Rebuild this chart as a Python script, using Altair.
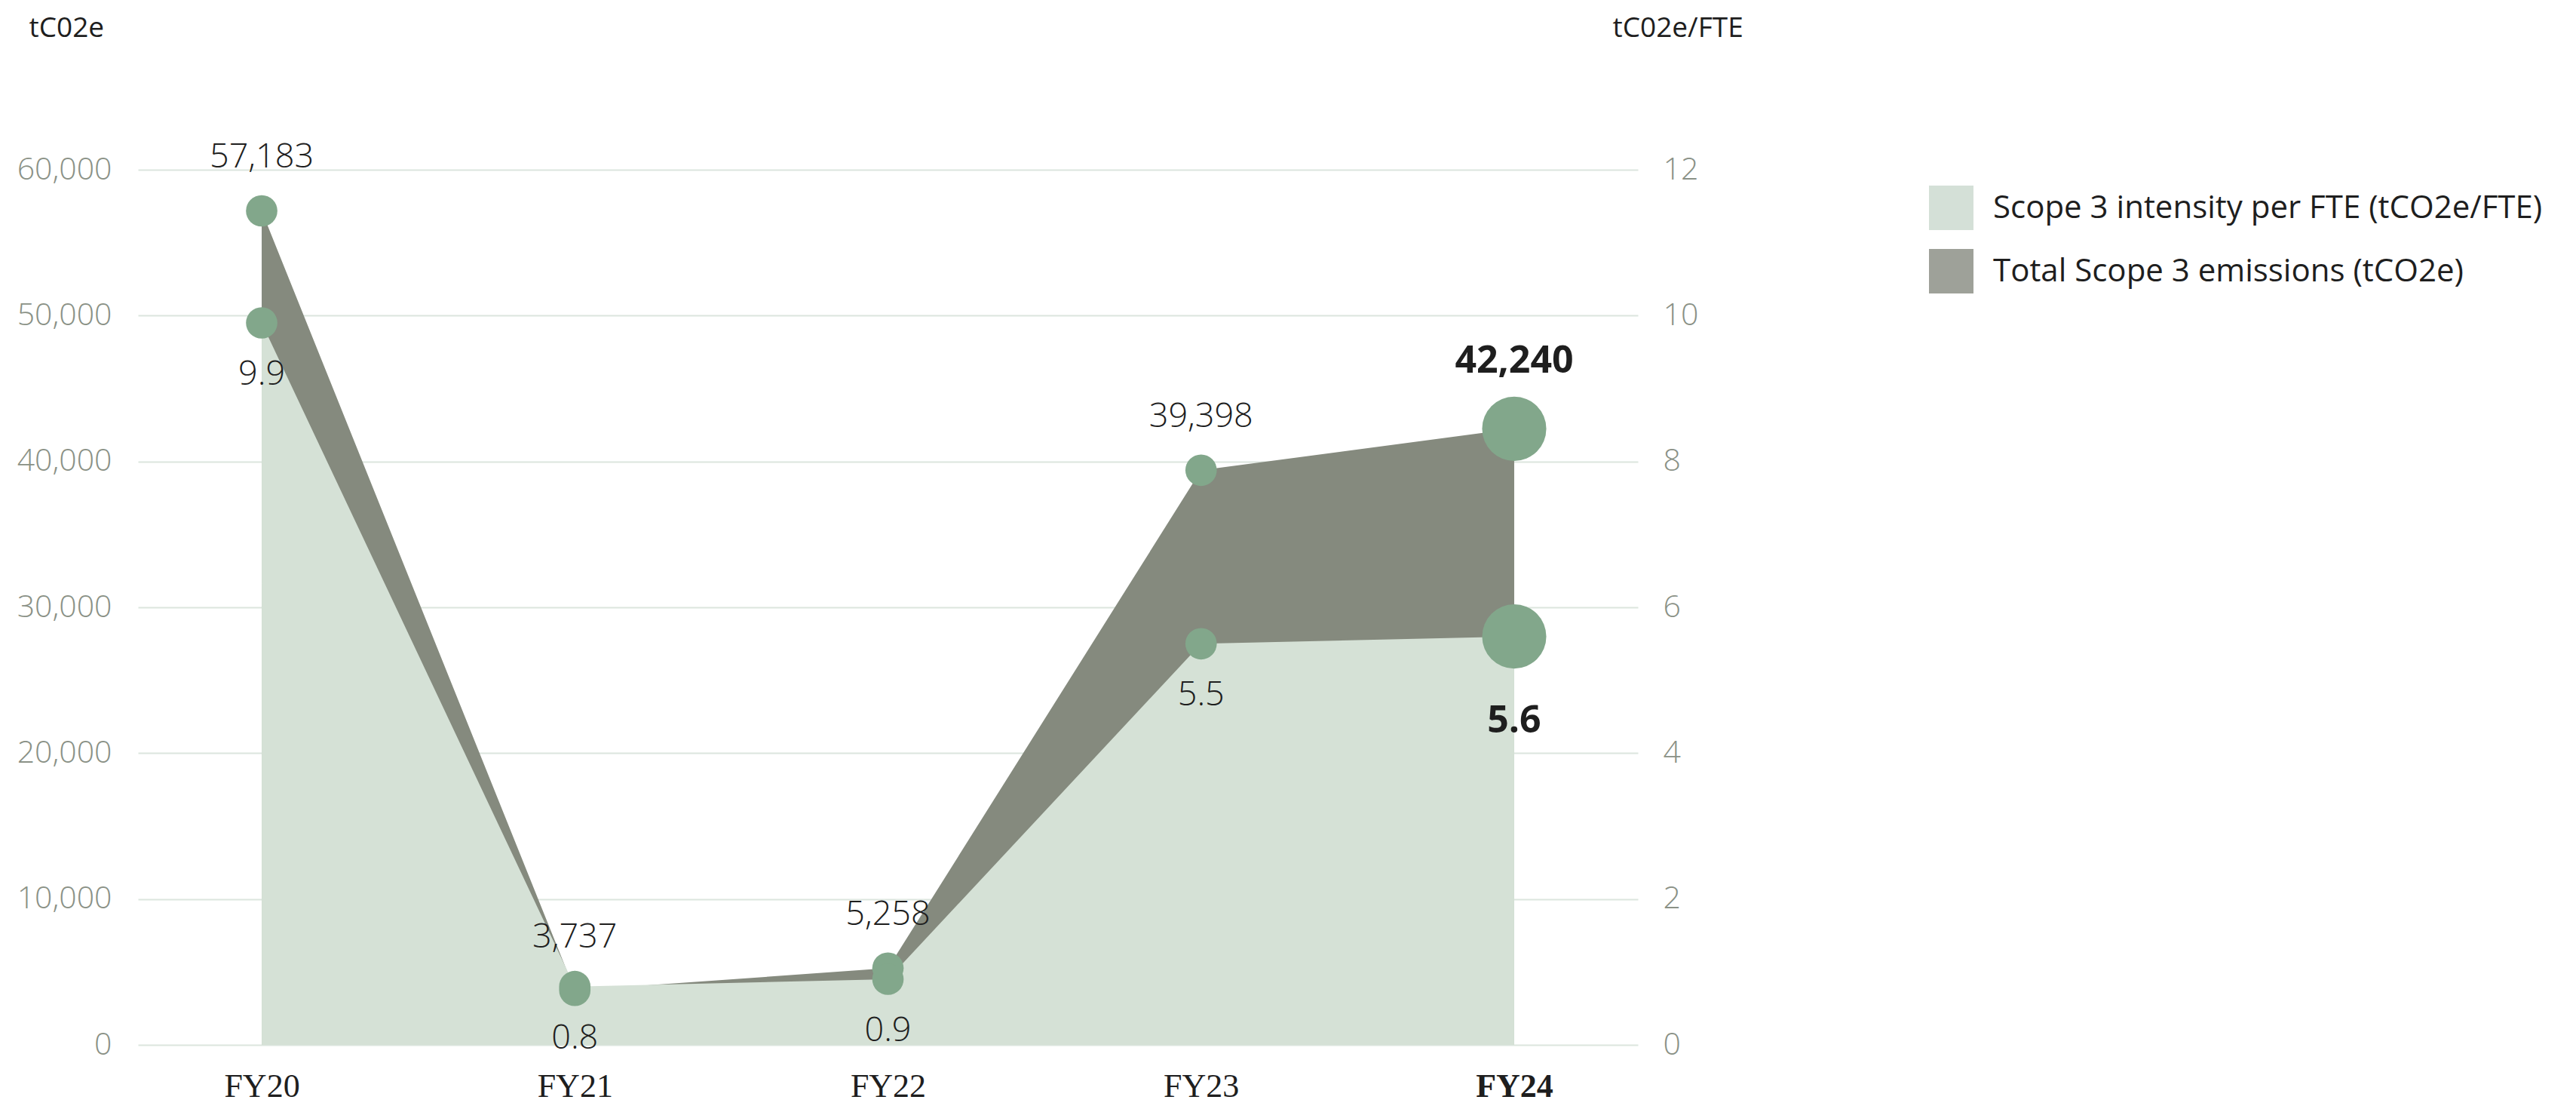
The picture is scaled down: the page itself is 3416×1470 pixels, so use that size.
import altair as alt
import pandas as pd

# ---- data ----
years = ["FY20", "FY21", "FY22", "FY23", "FY24"]
total_emissions = [57183, 3737, 5258, 39398, 42240]      # tCO2e (left axis)
intensity_per_fte = [9.9, 0.8, 0.9, 5.5, 5.6]            # tCO2e/FTE (right axis)
left_ticks = [0, 10000, 20000, 30000, 40000, 50000, 60000]
right_ticks = [0, 2, 4, 6, 8, 10, 12]
series_names = ["Scope 3 intensity per FTE (tCO2e/FTE)", "Total Scope 3 emissions (tCO2e)"]

df = pd.DataFrame({"year": years, "total": total_emissions, "intensity": intensity_per_fte})

SANS = "Open Sans"
SERIF = "Liberation Serif"
LIGHT = "#D5E1D6"
DARK = "#858A7E"
DOT = "#82A78B"
GRID = "#DCE5DE"
AXIS_LABEL = "#8A9186"
INK = "#1E1E1E"

x_enc = alt.X(
    "year:N", sort=years,
    scale=alt.Scale(type="point", padding=0.395),
    axis=alt.Axis(
        title=None, domain=False, ticks=False, labelAngle=0,
        labelFont=SERIF, labelFontSize=44, labelColor=INK, labelPadding=33,
        labelFontWeight={"condition": {"test": "datum.value == 'FY24'", "value": "bold"}, "value": "normal"},
    ),
)

left_scale = alt.Scale(domain=[0, 60000], nice=False, zero=True)
right_scale = alt.Scale(domain=[0, 12], nice=False, zero=True)

base = alt.Chart(df)

dark_area = base.mark_area(color=DARK, opacity=1).encode(
    x=x_enc,
    y=alt.Y("total:Q", scale=left_scale, axis=alt.Axis(
        values=left_ticks, format=",.0f", grid=True, gridColor=GRID, gridWidth=2,
        domain=False, ticks=False, labelPadding=35, labelFontSize=41,
        labelColor=AXIS_LABEL, labelFont=SANS, labelFontWeight=300,
        title="tC02e", titleAngle=0, titleX=-145, titleY=-177, titleAlign="left",
        titleBaseline="alphabetic", titleFontSize=37, titleFont=SANS,
        titleFontWeight="normal", titleColor=INK,
    )),
)

light_area = base.mark_area(color=LIGHT, opacity=1).encode(
    x=x_enc,
    y=alt.Y("intensity:Q", scale=right_scale, axis=alt.Axis(
        orient="right", values=right_ticks, format="d", grid=False, domain=False, ticks=False,
        labelPadding=33, labelFontSize=41, labelColor=AXIS_LABEL, labelFont=SANS,
        labelFontWeight=300,
        title="tC02e/FTE", titleAngle=0, titleX=-34, titleY=-177, titleAlign="left",
        titleBaseline="alphabetic", titleFontSize=37, titleFont=SANS,
        titleFontWeight="normal", titleColor=INK,
    )),
)

size_cond = alt.condition("datum.year == 'FY24'", alt.value(7240), alt.value(1735))

total_points = base.mark_circle(color=DOT, opacity=1).encode(
    x=x_enc, y=alt.Y("total:Q", scale=left_scale, axis=None), size=size_cond,
)
intensity_points = base.mark_circle(color=DOT, opacity=1).encode(
    x=x_enc, y=alt.Y("intensity:Q", scale=right_scale, axis=None), size=size_cond,
)

total_text = base.transform_filter("datum.year != 'FY24'").mark_text(
    font=SANS, fontSize=45, fontWeight=300, color=INK, baseline="alphabetic", dy=-57
).encode(x=x_enc, y=alt.Y("total:Q", scale=left_scale, axis=None),
         text=alt.Text("total:Q", format=",.0f"))
total_text_bold = base.transform_filter("datum.year == 'FY24'").mark_text(
    font=SANS, fontSize=50, fontWeight="bold", color=INK, baseline="alphabetic", dy=-74
).encode(x=x_enc, y=alt.Y("total:Q", scale=left_scale, axis=None),
         text=alt.Text("total:Q", format=",.0f"))

int_text = base.transform_filter("datum.year != 'FY24'").mark_text(
    font=SANS, fontSize=45, fontWeight=300, color=INK, baseline="alphabetic", dy=82
).encode(x=x_enc, y=alt.Y("intensity:Q", scale=right_scale, axis=None),
         text=alt.Text("intensity:Q", format=".1f"))
int_text_bold = base.transform_filter("datum.year == 'FY24'").mark_text(
    font=SANS, fontSize=50, fontWeight="bold", color=INK, baseline="alphabetic", dy=127
).encode(x=x_enc, y=alt.Y("intensity:Q", scale=right_scale, axis=None),
         text=alt.Text("intensity:Q", format=".1f"))

legend_layer = base.transform_filter("datum.total < 0").mark_square(opacity=1).encode(
    color=alt.Color("series:N", scale=alt.Scale(domain=series_names, range=["#D4E0D7", "#9EA199"]),
                    legend=alt.Legend(
                        orient="none", legendX=2375, legendY=21, title=None,
                        symbolType="square", symbolSize=3481, symbolStrokeWidth=0,
                        symbolOpacity=1, labelFontSize=42, labelFont=SANS, labelFontWeight="normal",
                        labelColor=INK, labelOffset=26, rowPadding=25, labelLimit=1200,
                    )),
)

chart = alt.layer(
    dark_area, light_area, total_points, intensity_points,
    total_text, total_text_bold, int_text, int_text_bold, legend_layer,
).resolve_scale(y="independent").properties(
    width=1989, height=1160,
    autosize=alt.AutoSizeParams(type="none"),
    padding={"left": 175, "top": 217, "right": 1236, "bottom": 78},
    background="white",
).configure_view(stroke=None)

chart.save("out.html", embed_options={"renderer": "svg", "actions": False})
